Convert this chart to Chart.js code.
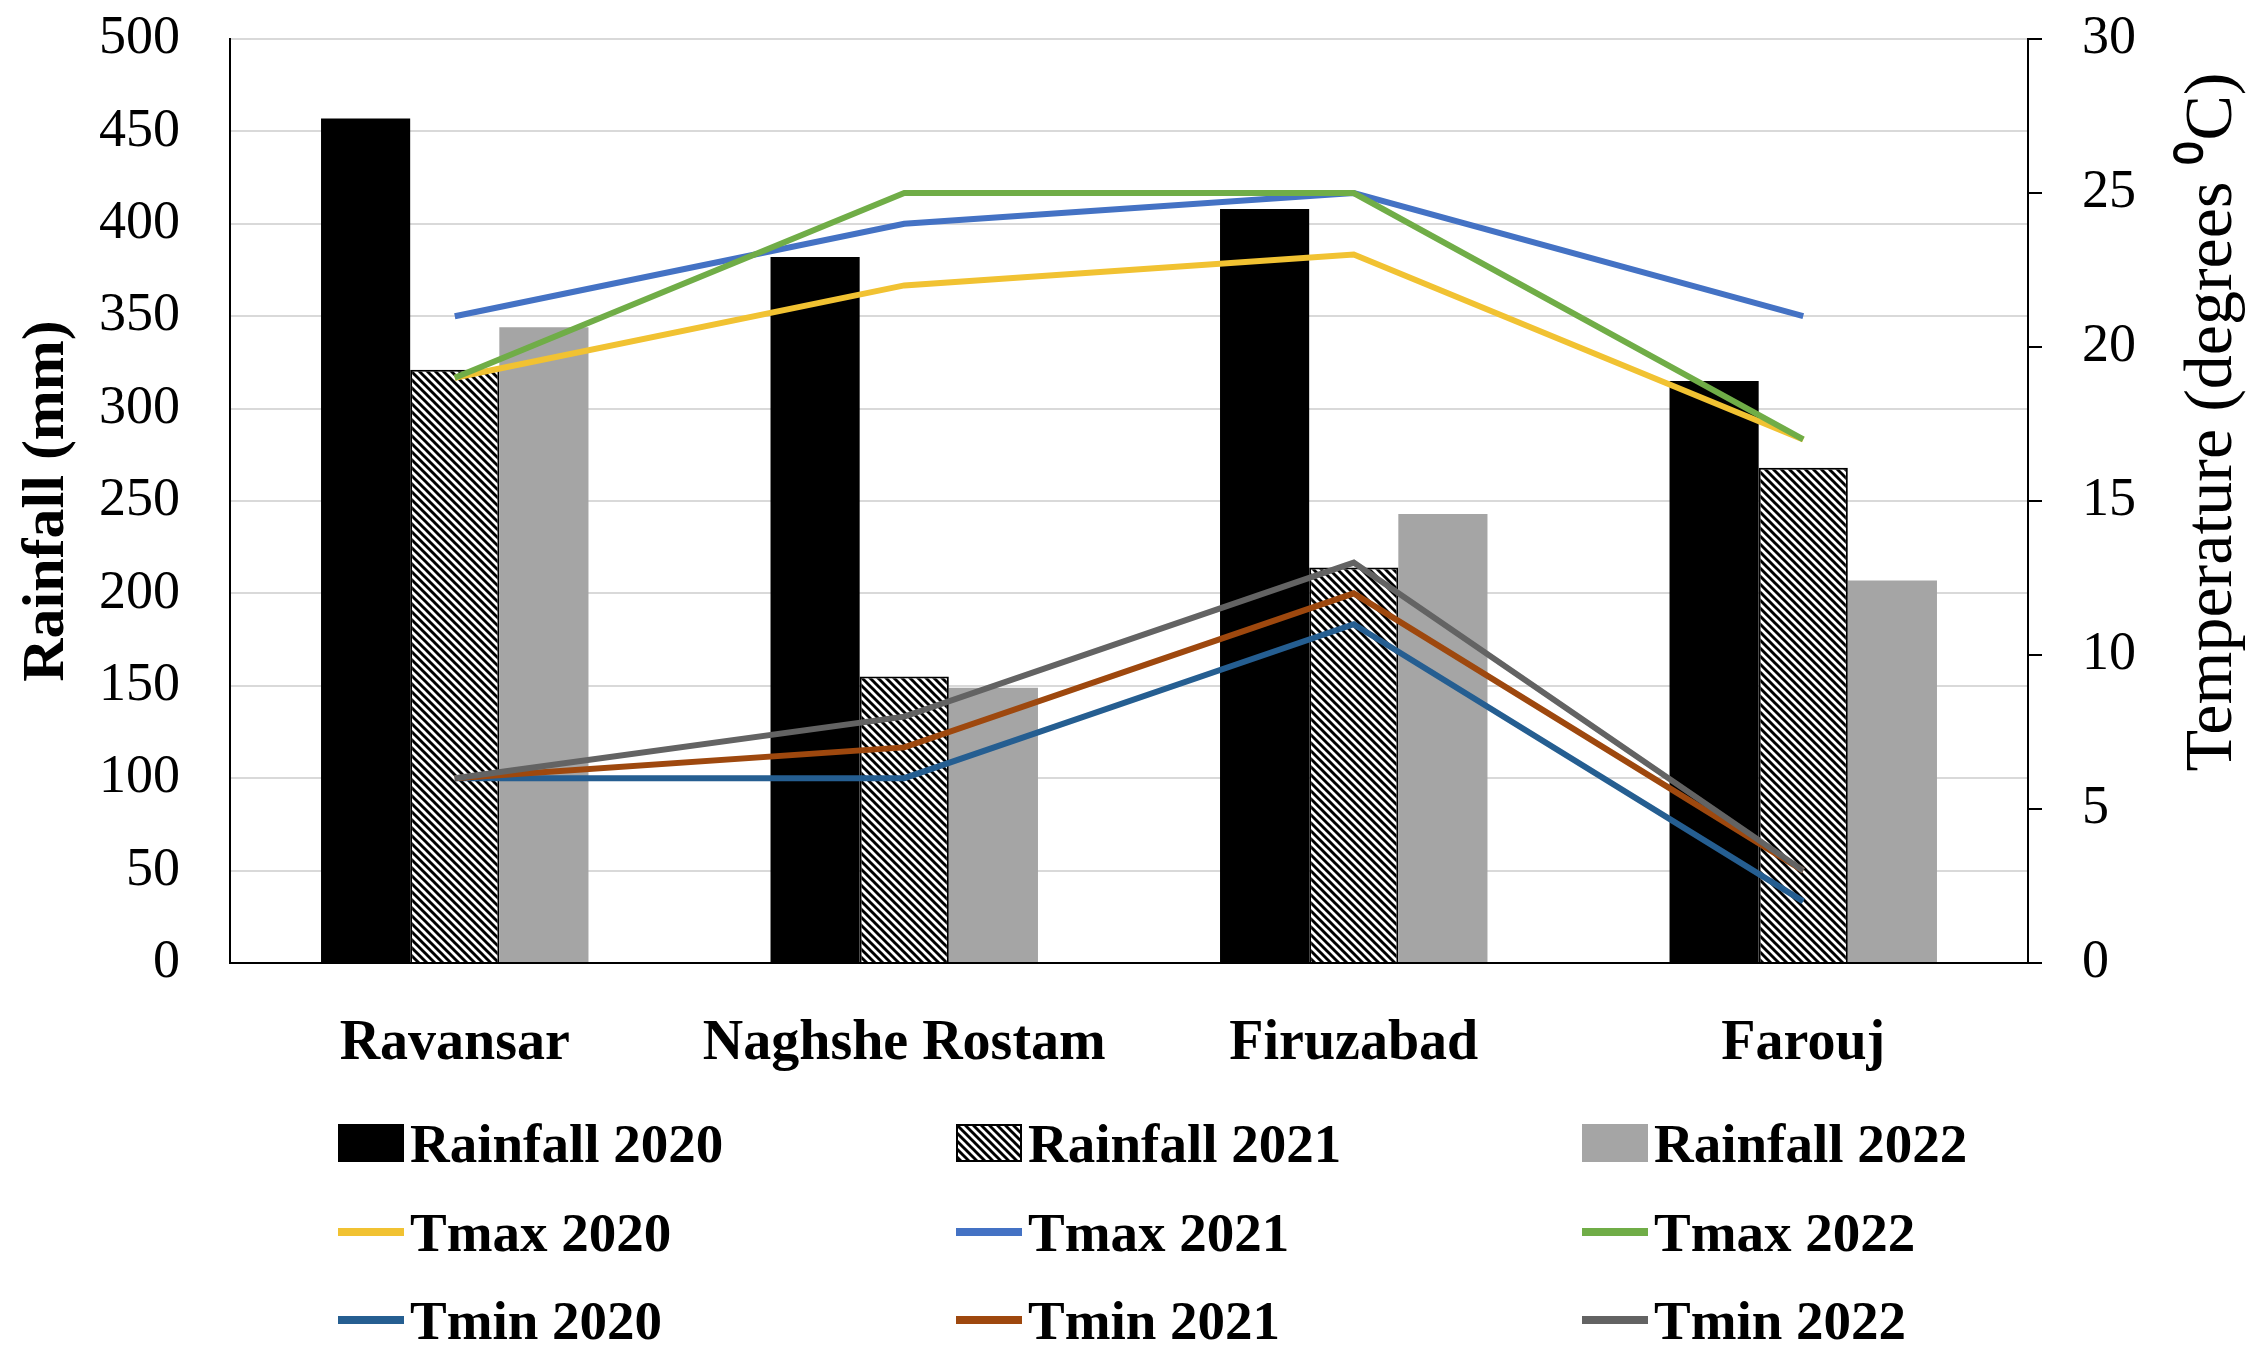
<!DOCTYPE html>
<html>
<head>
    <title>Rainfall and temperature</title>
    <script src="https://cdn.jsdelivr.net/npm/chart.js"></script>
    <style>
        body { margin: 0; background: #fff; width: 2255px; height: 1354px; position: relative; overflow: hidden; }
        #wrap { position: absolute; left: 0; top: 0; width: 2255px; height: 1100px; }
        .item { position: absolute; height: 70px; display: flex; align-items: center;
                font: bold 55px "Liberation Serif", serif; color: #000; white-space: nowrap; }
        .item canvas { margin-right: 6px; }
    </style>
</head>
<body>
    <div id="wrap"><canvas id="rainChart"></canvas></div>
    <div id="legend"></div>
    <script>
        const sites = ['Ravansar', 'Naghshe Rostam', 'Firuzabad', 'Farouj'];

        const rain2020 = [457, 382, 408, 315];
        const rain2021 = [321, 155, 214, 268];
        const rain2022 = [344, 149, 243, 207];

        const tmax2020 = [19, 22, 23, 17];
        const tmax2021 = [21, 24, 25, 21];
        const tmax2022 = [19, 25, 25, 17];
        const tmin2020 = [6, 6, 11, 2];
        const tmin2021 = [6, 7, 12, 3];
        const tmin2022 = [6, 8, 13, 3];

        // diagonal hatch for the 2021 bars
        const hatchCanvas = document.createElement('canvas');
        hatchCanvas.width = hatchCanvas.height = 8;
        const hc = hatchCanvas.getContext('2d');
        hc.fillStyle = '#fff';
        hc.fillRect(0, 0, 8, 8);
        hc.strokeStyle = '#000';
        hc.lineWidth = 2.9;
        hc.beginPath();
        [-8, 0, 8].forEach(o => { hc.moveTo(o - 2, -2); hc.lineTo(o + 10, 10); });
        hc.stroke();
        const hatch = hc.createPattern(hatchCanvas, 'repeat');

        Chart.defaults.font.family = '"Liberation Serif", serif';
        Chart.defaults.color = '#000';

        const line = (label, data, color, order) => ({
            type: 'line', label, data, borderColor: color, backgroundColor: color,
            borderWidth: 6, pointRadius: 0, tension: 0, yAxisID: 'y2', order
        });

        const datasets = [
            { type: 'bar', label: 'Rainfall 2020', data: rain2020, backgroundColor: '#000', order: 10 },
            { type: 'bar', label: 'Rainfall 2021', data: rain2021, backgroundColor: hatch,
              borderColor: '#000', borderWidth: 2, order: 10 },
            { type: 'bar', label: 'Rainfall 2022', data: rain2022, backgroundColor: '#A5A5A5', order: 10 },
            line('Tmax 2020', tmax2020, '#F1C232', 6),
            line('Tmax 2021', tmax2021, '#4472C4', 5),
            line('Tmax 2022', tmax2022, '#70AD47', 4),
            line('Tmin 2020', tmin2020, '#255E91', 3),
            line('Tmin 2021', tmin2021, '#9E480E', 2),
            line('Tmin 2022', tmin2022, '#636363', 1)
        ];

        // right axis title reads bottom-to-top like the left one
        const rightTitle = {
            id: 'rightTitle',
            afterDraw(chart) {
                const ctx = chart.ctx;
                ctx.save();
                ctx.translate(2213, 422);
                ctx.rotate(-Math.PI / 2);
                ctx.font = '68px "Liberation Serif", serif';
                ctx.fillStyle = '#000';
                ctx.textAlign = 'center';
                ctx.textBaseline = 'middle';
                ctx.fillText('Temperature (degrees \u2070C)', 0, 0);
                ctx.restore();
            }
        };

        new Chart(document.getElementById('rainChart'), {
            data: { labels: sites, datasets },
            plugins: [rightTitle],
            options: {
                responsive: true,
                maintainAspectRatio: false,
                animation: false,
                layout: { padding: { top: 39, left: 0, right: 0, bottom: 0 } },
                datasets: { bar: { barPercentage: 1, categoryPercentage: 0.595 } },
                plugins: { legend: { display: false }, tooltip: { enabled: false } },
                scales: {
                    x: {
                        grid: { display: false },
                        border: { color: '#000', width: 2 },
                        ticks: { font: { size: 56, weight: 'bold' }, padding: 40 },
                        afterFit: s => { s.height = 1100 - 963; }
                    },
                    y: {
                        position: 'left', min: 0, max: 500,
                        ticks: { stepSize: 50, font: { size: 54 }, padding: 50 },
                        grid: { color: '#D9D9D9', lineWidth: 2, drawTicks: false },
                        border: { color: '#000', width: 2 },
                        title: { display: true, text: 'Rainfall (mm)', font: { size: 60, weight: 'bold', lineHeight: 1 },
                                 padding: { top: 17, bottom: 0 } },
                        afterFit: s => { s.width = 230; s.paddingTop = 0; s.paddingBottom = 0; }
                    },
                    y2: {
                        position: 'right', min: 0, max: 30,
                        ticks: { stepSize: 5, font: { size: 54 }, padding: 40 },
                        grid: { drawOnChartArea: false, color: '#000', lineWidth: 2, tickLength: 14 },
                        border: { color: '#000', width: 2 },
                        afterFit: s => { s.width = 2255 - 2028; s.paddingTop = 0; s.paddingBottom = 0; }
                    }
                }
            }
        });

        // legend: three columns, three rows
        const colX = [338, 956, 1582];
        const rowY = [1143, 1232, 1320];
        const legend = document.getElementById('legend');
        datasets.forEach((ds, i) => {
            const item = document.createElement('div');
            item.className = 'item';
            item.style.left = colX[i % 3] + 'px';
            item.style.top = (rowY[Math.floor(i / 3)] - 35) + 'px';
            const sw = document.createElement('canvas');
            sw.width = 66; sw.height = 38;
            const c = sw.getContext('2d');
            if (ds.type === 'bar') {
                c.fillStyle = ds.backgroundColor === hatch ? c.createPattern(hatchCanvas, 'repeat') : ds.backgroundColor;
                c.fillRect(0, 0, 66, 38);
                if (ds.borderWidth) { c.strokeStyle = '#000'; c.lineWidth = 2; c.strokeRect(1, 1, 64, 36); }
            } else {
                c.fillStyle = ds.borderColor;
                c.fillRect(0, 15, 66, 8);
            }
            item.appendChild(sw);
            item.appendChild(document.createTextNode(ds.label));
            legend.appendChild(item);
        });
    </script>
</body>
</html>
